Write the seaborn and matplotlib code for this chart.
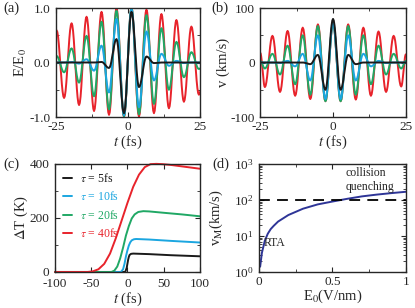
import numpy as np
import pandas as pd
import matplotlib
matplotlib.use("Agg")
import matplotlib.pyplot as plt
from matplotlib.ticker import MultipleLocator, FixedLocator, LogLocator, NullFormatter
import seaborn as sns

# ---- data ----
# (a) field E/E0: times of the extrema (fs) and signed extremum values
t_ext_a = [-24.8, -22.2, -19.6, -17.0, -14.4, -11.8, -9.2, -6.6, -4.0, -1.4,
           1.2, 3.8, 6.4, 9.0, 11.6, 14.2, 16.8, 19.4, 22.0, 24.6]
E_tau5 = [0, 0, 0, 0, 0, 0, 0.01, -0.10, 0.43, -0.93,
          0.93, -0.45, 0.11, -0.01, 0, 0, 0, 0, 0, 0]
E_tau10 = [0, 0, 0.01, -0.02, 0.06, -0.15, 0.31, -0.55, 0.80, -0.97,
           0.98, -0.82, 0.57, -0.33, 0.16, -0.06, 0.03, -0.01, 0, 0]
E_tau20 = [0.12, -0.18, 0.26, -0.37, 0.49, -0.62, 0.75, -0.86, 0.95, -0.99,
           1.0, -0.95, 0.87, -0.76, 0.63, -0.50, 0.38, -0.27, 0.19, -0.12]
E_tau40 = [0.59, -0.65, 0.72, -0.78, 0.84, -0.89, 0.93, -0.96, 0.99, -1.0,
           1.0, -0.99, 0.97, -0.93, 0.89, -0.84, 0.78, -0.72, 0.66, -0.59]
E_edges = {"5": (0, 0), "10": (0, 0), "20": (0.12, -0.11), "40": (0.58, -0.54)}

# (b) velocity v (km/s)
t_ext_b = [-23.4, -20.8, -18.2, -15.6, -13.0, -10.4, -7.8, -5.2, -2.6, 0.0,
           2.6, 5.2, 7.8, 10.4, 13.0, 15.6, 18.2, 20.8, 23.4]
v_tau5 = [0, 0, 0, 0, 0, 0, -3, 14, -50, 80, -50, 14, -3, 0, 0, 0, 0, 0, 0]
v_tau10 = [0, 0, -1, 3, -7, 16, -33, 50, -67, 73, -67, 50, -33, 16, -7, 3, -1, 0, 0]
v_tau20 = [-11, 16, -22, 31, -40, 50, -59, 67, -71, 73, -71, 67, -59, 50, -40, 31, -22, 16, -11]
v_tau40 = [-45, 49, -54, 58, -61, 64, -67, 70, -71, 73, -71, 70, -68, 64, -61, 57, -54, 49, -44]
v_edges = {"5": (0, 0), "10": (0, 0), "20": (3, 3), "40": (18, 15)}

# (c) temperature rise dT (K)
t_c5 = [-100, -3, -1, 0, 1, 2, 3, 5, 8, 30, 60, 100]
T_c5 = [0, 0, 15, 30, 45, 56, 63, 67, 68, 66, 62, 58]
t_c10 = [-100, -9, -6, -4, -2, 0, 2, 4, 6, 9, 12, 30, 60, 100]
T_c10 = [0, 0, 10, 30, 58, 80, 98, 110, 117, 121, 122, 120, 115, 109]
t_c20 = [-100, -22, -18, -14, -10, -6, -2, 2, 6, 10, 15, 22, 30, 50, 75, 100]
T_c20 = [0, 0, 5, 20, 50, 90, 135, 170, 198, 213, 222, 225, 224, 219, 213, 206]
t_c40 = [-100, -55, -48, -40, -32, -24, -16, -8, 0, 8, 16, 24, 32, 40, 48, 60, 80, 100]
T_c40 = [0, 0, 2, 10, 30, 68, 125, 190, 255, 315, 360, 388, 399, 400, 399, 396, 389, 382]

# (d) maximum velocity vs field strength
E0_d = [0.008, 0.02, 0.04, 0.06, 0.08, 0.1, 0.13, 0.2, 0.3, 0.4, 0.5, 0.6, 0.7, 0.8, 0.9, 1.0]
vM_d = [1.4, 3.4, 7.4, 11.5, 15.5, 19, 25, 38, 57, 75, 90, 107, 125, 140, 154, 168]
v_quench = 100

taus = ["5", "10", "20", "40"]
colors = {"5": "#1a1a1a", "10": "#1ba6e0", "20": "#20a865", "40": "#e8232b"}
navy = "#2e3597"


def wave(t_ext, vals, t0, t1, edge, sub=10):
    # smooth (cosine-eased) stroke through the read extrema
    knots_t = [t0] + list(t_ext) + [t1]
    knots_v = [edge[0]] + list(vals) + [edge[1]]
    ts, vs = [knots_t[0]], [knots_v[0]]
    s = np.linspace(0, 1, sub + 1)[1:]
    for i in range(1, len(knots_t)):
        ta, tb = knots_t[i - 1], knots_t[i]
        va, vb = knots_v[i - 1], knots_v[i]
        ts.extend(ta + (tb - ta) * s)
        vs.extend(va + (vb - va) * (1 - np.cos(np.pi * s)) / 2)
    return pd.DataFrame({"t": ts, "y": vs})


sns.set_style("ticks")
plt.rcParams["font.family"] = ["Liberation Serif", "DejaVu Serif"]
plt.rcParams["mathtext.fontset"] = "stix"
plt.rcParams["axes.unicode_minus"] = False
plt.rcParams["axes.linewidth"] = 1.0

fig = plt.figure(figsize=(4.15, 3.08), dpi=100)
ax_a = fig.add_axes([0.135, 0.620, 0.347, 0.354])
ax_b = fig.add_axes([0.627, 0.620, 0.351, 0.354])
ax_c = fig.add_axes([0.1325, 0.117, 0.349, 0.351])
ax_d = fig.add_axes([0.624, 0.117, 0.354, 0.351])

lw = 1.4
E_sets = {"5": E_tau5, "10": E_tau10, "20": E_tau20, "40": E_tau40}
v_sets = {"5": v_tau5, "10": v_tau10, "20": v_tau20, "40": v_tau40}
for tau in ["40", "20", "10", "5"]:
    df = wave(t_ext_a, E_sets[tau], -25, 25, E_edges[tau])
    sns.lineplot(data=df, x="t", y="y", ax=ax_a, color=colors[tau], lw=lw,
                 sort=False, estimator=None)
    df = wave(t_ext_b, v_sets[tau], -25, 25, v_edges[tau])
    sns.lineplot(data=df, x="t", y="y", ax=ax_b, color=colors[tau], lw=lw,
                 sort=False, estimator=None)

c_sets = {"5": (t_c5, T_c5), "10": (t_c10, T_c10), "20": (t_c20, T_c20), "40": (t_c40, T_c40)}
for tau in taus:
    t, T = c_sets[tau]
    sns.lineplot(x=t, y=T, ax=ax_c, color=colors[tau], lw=lw, sort=False,
                 estimator=None, label=r"$\tau$ = " + tau + "fs", clip_on=False)

sns.lineplot(x=E0_d, y=vM_d, ax=ax_d, color=navy, lw=lw, sort=False, estimator=None)
ax_d.axhline(v_quench, color="black", lw=1.3, dashes=(6, 4))

fs_tick = 9.5
fs_lab = 10.5

# panel (a)
ax_a.set_xlim(-25, 25)
ax_a.set_ylim(-1, 1)
ax_a.xaxis.set_major_locator(FixedLocator([-25, 0, 25]))
ax_a.xaxis.set_minor_locator(FixedLocator([-12.5, 12.5]))
ax_a.yaxis.set_major_locator(FixedLocator([-1, 0, 1]))
ax_a.yaxis.set_minor_locator(FixedLocator([-0.5, 0.5]))
ax_a.set_yticklabels(["-1.0", "0.0", "1.0"])
ax_a.set_xlabel(r"$t$ (fs)", fontsize=fs_lab, labelpad=0)
ax_a.set_ylabel(r"E/E$_0$", fontsize=fs_lab, labelpad=0)

# panel (b)
ax_b.set_xlim(-25, 25)
ax_b.set_ylim(-100, 100)
ax_b.xaxis.set_major_locator(FixedLocator([-25, 0, 25]))
ax_b.xaxis.set_minor_locator(FixedLocator([-12.5, 12.5]))
ax_b.yaxis.set_major_locator(FixedLocator([-100, 0, 100]))
ax_b.yaxis.set_minor_locator(FixedLocator([-50, 50]))
ax_b.set_xlabel(r"$t$ (fs)", fontsize=fs_lab, labelpad=0)
ax_b.set_ylabel("v (km/s)", fontsize=fs_lab, labelpad=0)

# panel (c)
ax_c.set_xlim(-100, 100)
ax_c.set_ylim(0, 400)
ax_c.xaxis.set_major_locator(MultipleLocator(50))
ax_c.yaxis.set_major_locator(MultipleLocator(200))
ax_c.yaxis.set_minor_locator(MultipleLocator(100))
ax_c.set_xlabel(r"$t$ (fs)", fontsize=fs_lab, labelpad=0)
ax_c.set_ylabel(r"$\Delta$T (K)", fontsize=fs_lab, labelpad=0)
leg = ax_c.legend(loc="upper left", frameon=False, fontsize=8.5, handlelength=0.7,
                  handletextpad=0.7, labelspacing=0.45, borderaxespad=0.3,
                  labelcolor="linecolor")

# panel (d)
ax_d.set_xlim(0, 1)
ax_d.set_yscale("log")
ax_d.set_ylim(1, 1000)
ax_d.xaxis.set_major_locator(FixedLocator([0, 0.5, 1]))
ax_d.xaxis.set_minor_locator(FixedLocator([0.25, 0.75]))
ax_d.set_xticklabels(["0", "0.5", "1"])
ax_d.yaxis.set_major_locator(LogLocator(base=10, numticks=5))
ax_d.yaxis.set_minor_locator(LogLocator(base=10, subs=np.arange(2, 10), numticks=10))
ax_d.yaxis.set_minor_formatter(NullFormatter())
ax_d.set_xlabel(r"E$_\mathrm{0}$(V/nm)", fontsize=fs_lab, labelpad=0)
ax_d.set_ylabel(r"v$_\mathrm{M}$(km/s)", fontsize=fs_lab)
ax_d.yaxis.set_label_coords(-0.231, 0.5)
ax_d.text(0.59, 560, "collision", fontsize=8.5, va="center")
ax_d.text(0.59, 235, "quenching", fontsize=8.5, va="center")
ax_d.text(0.035, 6.3, "RTA", fontsize=8.5, va="center")

for ax in (ax_a, ax_b, ax_c, ax_d):
    ax.tick_params(which="both", direction="in", top=True, right=True,
                   labelsize=fs_tick)
    ax.tick_params(axis="y", which="both", pad=4)
    ax.tick_params(axis="x", which="both", pad=3)
    ax.tick_params(which="major", length=3.5, width=0.8)
    ax.tick_params(which="minor", length=2, width=0.6)
    for s in ax.spines.values():
        s.set_visible(True)
ax_c.tick_params(axis="x", which="both", pad=4.5)

fig.text(0.008, 0.974, "(a)", fontsize=fs_lab, va="center")
fig.text(0.510, 0.974, "(b)", fontsize=fs_lab, va="center")
fig.text(0.008, 0.467, "(c)", fontsize=fs_lab, va="center")
fig.text(0.512, 0.467, "(d)", fontsize=fs_lab, va="center")

fig.savefig("out.png", dpi=100)
